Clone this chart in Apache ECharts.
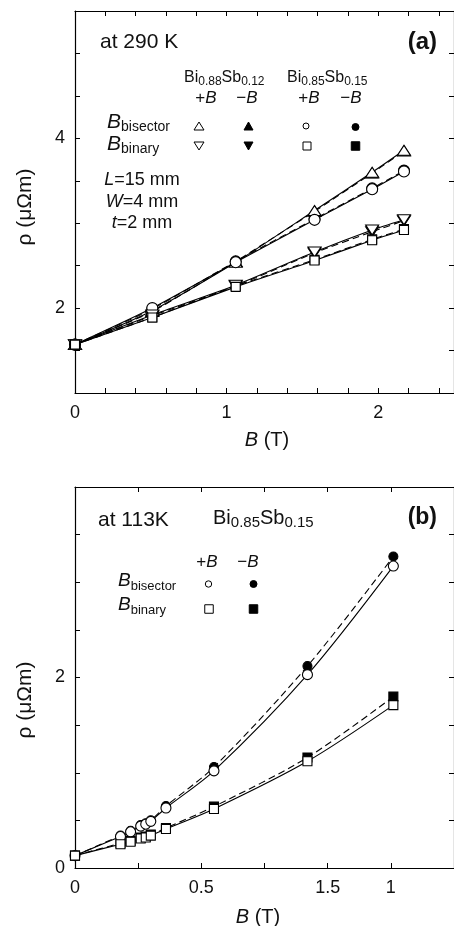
<!DOCTYPE html>
<html><head><meta charset="utf-8">
<script src="https://cdn.jsdelivr.net/npm/echarts@6/dist/echarts.min.js"></script>
<style>html,body{margin:0;padding:0;background:#fff}#c{width:454px;height:926px}</style>
</head><body><div id="c"></div>
<script>
const FONT = '"Liberation Sans", Arial, Helvetica, sans-serif';
const INK = '#111';

// ---------- Panel (a): 290 K ----------
const fieldA = [0, 0.51, 1.06, 1.58, 1.96, 2.17];
const a088BisectorPlus  = [1.57, 1.97, 2.54, 3.15, 3.60, 3.86];
const a088BisectorMinus = [1.57, 1.96, 2.55, 3.14, 3.59, 3.85];
const a085BisectorPlus  = [1.57, 2.00, 2.54, 3.04, 3.40, 3.61];
const a085BisectorMinus = [1.57, 1.99, 2.55, 3.05, 3.41, 3.62];
const a088BinaryPlus    = [1.57, 1.92, 2.27, 2.66, 2.92, 3.04];
const a088BinaryMinus   = [1.57, 1.91, 2.26, 2.65, 2.90, 3.03];
const a085BinaryPlus    = [1.57, 1.89, 2.25, 2.56, 2.80, 2.92];
const a085BinaryMinus   = [1.57, 1.89, 2.26, 2.57, 2.81, 2.93];

// ---------- Panel (b): 113 K ----------
const fieldB = [0, 0.18, 0.22, 0.26, 0.28, 0.30, 0.36, 0.55, 0.92, 1.26];
const b085BisectorPlus  = [0.13, 0.33, 0.38, 0.44, 0.46, 0.49, 0.63, 1.02, 2.03, 3.17];
const b085BisectorMinus = [0.13, 0.34, 0.39, 0.45, 0.47, 0.50, 0.65, 1.06, 2.12, 3.27];
const b085BinaryPlus    = [0.13, 0.25, 0.275, 0.31, 0.32, 0.34, 0.41, 0.62, 1.12, 1.71];
const b085BinaryMinus   = [0.13, 0.26, 0.285, 0.32, 0.33, 0.35, 0.42, 0.645, 1.16, 1.80];

// ---------- tick labels ----------
const aXTickValues = [0, 1, 2];        const aXTickLabels = ['0', '1', '2'];
const aYTickValues = [2, 4];           const aYTickLabels = ['2', '4'];
const bXTickValues = [0, 0.5, 1, 1.25]; const bXTickLabels = ['0', '0.5', '1.5', '1'];
const bYTickValues = [0, 2, 4];        const bYTickLabels = ['0', '2', '4'];

function labeler(vals, labels) {
  return function (v) {
    const i = vals.findIndex(t => Math.abs(t - v) < 1e-6);
    return i >= 0 ? labels[i] : '';
  };
}

function axis(kind, grid, pos, min, max, interval, vals, labels) {
  return {
    type: 'value', gridIndex: grid, position: pos, min, max, interval,
    axisLine: { show: true, onZero: false, lineStyle: { color: '#000', width: 1.2 } },
    axisTick: { show: true, inside: true, length: 5, lineStyle: { color: '#000', width: 1 } },
    splitLine: { show: false },
    axisLabel: vals ? {
      show: true, margin: kind === 'x' ? 11 : 10, color: INK, fontSize: 18, fontFamily: FONT,
      formatter: labeler(vals, labels), showMinLabel: true, showMaxLabel: false
    } : { show: false }
  };
}

function ser(xs, ys, axisIdx, symbol, size, rotate, filled, dashed, smooth) {
  return {
    type: 'line', xAxisIndex: axisIdx, yAxisIndex: axisIdx,
    data: xs.map((x, i) => [x, ys[i]]),
    symbol, symbolSize: size, symbolRotate: rotate, showSymbol: true,
    smooth, animation: false, silent: true,
    z: filled ? 2 : 3,
    lineStyle: { color: '#000', width: 1.1, type: dashed ? [7, 4] : 'solid' },
    itemStyle: { color: filled ? '#000' : '#fff', borderColor: '#000', borderWidth: 1.1 }
  };
}

const TRI = [13, 10], CIR = 11, SQ = 9;
const CIRb = 10, CIRbFilled = 9;

const series = [
  // panel a, -B (filled, dashed) first
  ser(fieldA, a088BisectorMinus, 0, 'triangle', TRI, 0, true, true, 0.2),
  ser(fieldA, a085BisectorMinus, 0, 'circle', CIR, 0, true, true, 0.2),
  ser(fieldA, a088BinaryMinus, 0, 'triangle', TRI, 180, true, true, 0.2),
  ser(fieldA, a085BinaryMinus, 0, 'rect', SQ, 0, true, true, 0.2),
  // panel a, +B (open, solid)
  ser(fieldA, a088BisectorPlus, 0, 'triangle', TRI, 0, false, false, 0.2),
  ser(fieldA, a085BisectorPlus, 0, 'circle', CIR, 0, false, false, 0.2),
  ser(fieldA, a088BinaryPlus, 0, 'triangle', TRI, 180, false, false, 0.2),
  ser(fieldA, a085BinaryPlus, 0, 'rect', SQ, 0, false, false, 0.2),
  // panel b
  ser(fieldB, b085BisectorMinus, 2, 'circle', CIRbFilled, 0, true, true, 0.3),
  ser(fieldB, b085BinaryMinus, 2, 'rect', SQ, 0, true, true, 0.3),
  ser(fieldB, b085BisectorPlus, 2, 'circle', CIRb, 0, false, false, 0.3),
  ser(fieldB, b085BinaryPlus, 2, 'rect', SQ, 0, false, false, 0.3)
];

// rich text styles
const rich = (main, sub, drop) => ({
  m: { fontSize: main, fontFamily: FONT, color: INK, lineHeight: main + 4 },
  mi: { fontSize: main, fontFamily: FONT, color: INK, fontStyle: 'italic', lineHeight: main + 4 },
  s: { fontSize: sub, fontFamily: FONT, color: INK, lineHeight: main + 4 - drop, padding: [drop, 0, 0, 0], verticalAlign: 'bottom' }
});

function txt(x, y, text, opts) {
  return {
    type: 'text', x, y, silent: true,
    style: Object.assign({ text, fill: INK, font: '18px ' + FONT, align: 'left', verticalAlign: 'middle' }, opts || {})
  };
}
function richTxt(x, y, text, main, sub, drop, align) {
  return {
    type: 'text', x, y, silent: true,
    style: { text, rich: rich(main, sub, drop), align: align || 'left', verticalAlign: 'middle', fill: INK, font: main + 'px ' + FONT }
  };
}
function tri(cx, cy, w, h, up, filled) {
  const pts = up ? [[cx - w / 2, cy + h / 2], [cx + w / 2, cy + h / 2], [cx, cy - h / 2]]
                 : [[cx - w / 2, cy - h / 2], [cx + w / 2, cy - h / 2], [cx, cy + h / 2]];
  return { type: 'polygon', silent: true, shape: { points: pts },
    style: { fill: filled ? '#000' : '#fff', stroke: '#000', lineWidth: 1 } };
}
function circ(cx, cy, r, filled) {
  return { type: 'circle', silent: true, shape: { cx, cy, r },
    style: { fill: filled ? '#000' : '#fff', stroke: '#000', lineWidth: 1 } };
}
function sq(cx, cy, s, filled) {
  return { type: 'rect', silent: true, shape: { x: cx - s / 2, y: cy - s / 2, width: s, height: s },
    style: { fill: filled ? '#000' : '#fff', stroke: '#000', lineWidth: 1 } };
}

const yTitle = 'ρ (μΩm)';
const graphics = [
  // panel a texts
  txt(100, 42, 'at 290 K', { font: '21px ' + FONT }),
  txt(437, 42, '(a)', { font: 'bold 24px ' + FONT, align: 'right' }),
  richTxt(184, 78, '{m|Bi}{s|0.88}{m|Sb}{s|0.12}', 16, 12, 8),
  richTxt(287, 78, '{m|Bi}{s|0.85}{m|Sb}{s|0.15}', 16, 12, 8),
  richTxt(206, 98, '{m|+}{mi|B}', 17, 12, 8, 'center'),
  richTxt(247, 98, '{m|−}{mi|B}', 17, 12, 8, 'center'),
  richTxt(309, 98, '{m|+}{mi|B}', 17, 12, 8, 'center'),
  richTxt(351, 98, '{m|−}{mi|B}', 17, 12, 8, 'center'),
  richTxt(107, 122, '{mi|B}{s|bisector}', 21, 14, 4),
  richTxt(107, 144, '{mi|B}{s|binary}', 21, 14, 4),
  richTxt(142, 180, '{mi|L}{m|=15 mm}', 18, 12, 0, 'center'),
  richTxt(142, 202, '{mi|W}{m|=4 mm}', 18, 12, 0, 'center'),
  richTxt(142, 223, '{mi|t}{m|=2 mm}', 18, 12, 0, 'center'),
  tri(199, 126, 10, 8, true, false),
  tri(248.5, 126, 9, 8, true, true),
  circ(306, 126, 3, false),
  circ(355.5, 127, 3.5, true),
  tri(199, 146, 10, 8, false, false),
  tri(248.5, 146, 9, 8, false, true),
  sq(307, 146, 8, false),
  sq(355.5, 146, 8.5, true),
  Object.assign(txt(25, 207, yTitle, { font: '21px ' + FONT, align: 'center' }), { rotation: Math.PI / 2 }),
  richTxt(267, 440, '{mi|B}{m| (T)}', 20, 14, 0, 'center'),
  // panel b texts
  txt(98, 520, 'at 113K', { font: '21px ' + FONT }),
  txt(437, 518, '(b)', { font: 'bold 23px ' + FONT, align: 'right' }),
  richTxt(213, 518, '{m|Bi}{s|0.85}{m|Sb}{s|0.15}', 20, 15, 9),
  richTxt(207, 562, '{m|+}{mi|B}', 17, 12, 8, 'center'),
  richTxt(248, 562, '{m|−}{mi|B}', 17, 12, 8, 'center'),
  richTxt(118, 581, '{mi|B}{s|bisector}', 19, 13, 4),
  richTxt(118, 605, '{mi|B}{s|binary}', 19, 13, 4),
  circ(208.5, 584, 3.2, false),
  circ(253.5, 584, 3.5, true),
  sq(209, 609, 8.5, false),
  sq(253.5, 609, 8.5, true),
  Object.assign(txt(25, 700, yTitle, { font: '21px ' + FONT, align: 'center' }), { rotation: Math.PI / 2 }),
  richTxt(258, 917, '{mi|B}{m| (T)}', 20, 14, 0, 'center')
];

const chart = echarts.init(document.getElementById('c'), null, { renderer: 'canvas' });
chart.setOption({
  backgroundColor: '#fff',
  animation: false,
  grid: [
    { left: 75, top: 11, width: 382, height: 382 },
    { left: 75, top: 487, width: 382, height: 381 }
  ],
  xAxis: [
    axis('x', 0, 'bottom', 0, 2.5, 0.2, aXTickValues, aXTickLabels),
    axis('x', 0, 'top', 0, 2.5, 0.2, null, null),
    axis('x', 1, 'bottom', 0, 1.5, 0.25, bXTickValues, bXTickLabels),
    axis('x', 1, 'top', 0, 1.5, 0.25, null, null)
  ],
  yAxis: [
    axis('y', 0, 'left', 1, 5.5, 0.5, aYTickValues, aYTickLabels),
    axis('y', 0, 'right', 1, 5.5, 0.5, null, null),
    axis('y', 1, 'left', 0, 4, 0.5, bYTickValues, bYTickLabels),
    axis('y', 1, 'right', 0, 4, 0.5, null, null)
  ],
  series,
  graphic: graphics
});
</script></body></html>
